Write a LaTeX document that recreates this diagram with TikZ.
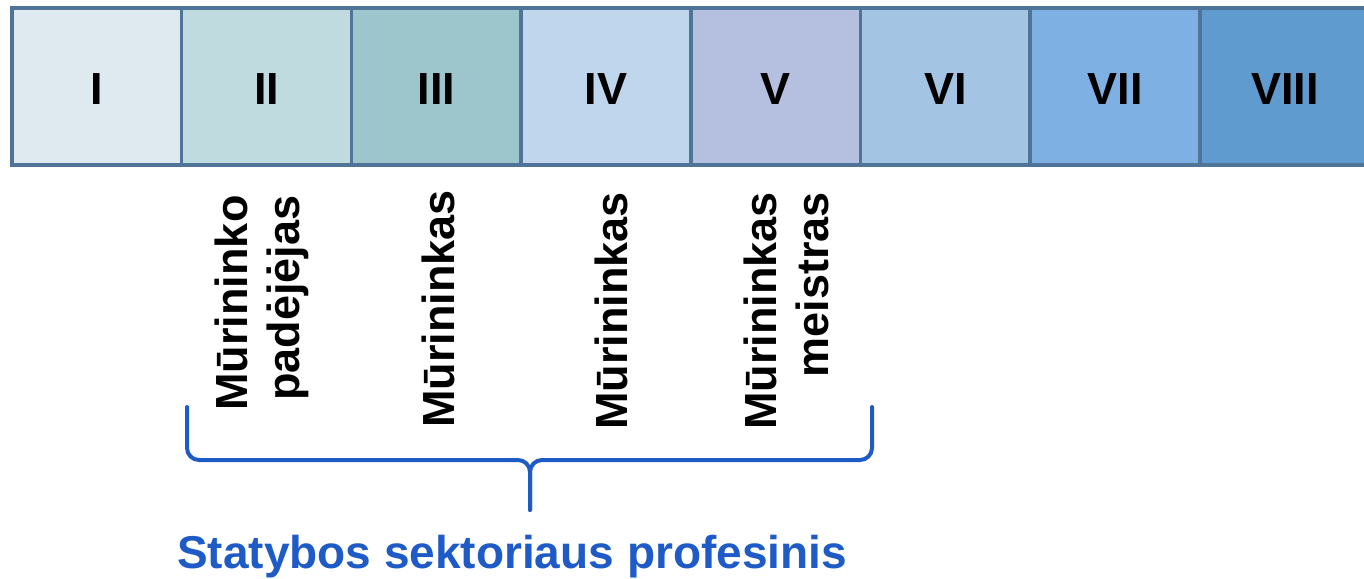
\documentclass[tikz,border=0pt]{standalone}
\usepackage{fontspec}
\setmainfont{Liberation Sans}
\usepackage{tikz}
\usetikzlibrary{positioning}

\definecolor{frame}{HTML}{4F7497}
\definecolor{lvA}{HTML}{DEE9F0}
\definecolor{lvB}{HTML}{BFDBDF}
\definecolor{lvC}{HTML}{9DC6CC}
\definecolor{lvD}{HTML}{BFD6EC}
\definecolor{lvE}{HTML}{B5BFDF}
\definecolor{lvF}{HTML}{A3C4E2}
\definecolor{lvG}{HTML}{7FB0E4}
\definecolor{lvH}{HTML}{609BD0}
\definecolor{sektor}{HTML}{1F5BC7}

\begin{document}
\begin{tikzpicture}[x=1pt,y=-1pt,node distance=169.7pt,
    lvl/.style={draw=frame,line width=3.5pt,minimum width=169.7pt,minimum height=157pt,inner sep=0pt,
      text height=36pt,font=\bfseries\fontsize{45}{52}\selectfont},
    job/.style={rotate=90,align=right,inner sep=0pt,font=\bfseries\fontsize{45}{52}\selectfont},
    brace/.style={draw=sektor,line width=4pt,rounded corners=12pt,line cap=round}]
        \useasboundingbox (0,0) rectangle (1364,578);
        \clip (0,0) rectangle (1364,578);

        % lygiai
        \node[lvl, fill=lvA] (l1) at (96.85,86.5) {I};
        \node[lvl, fill=lvB] (l2) [right of = l1] {II};
        \node[lvl, fill=lvC] (l3) [right of = l2] {III};
        \node[lvl, fill=lvD] (l4) [right of = l3] {IV};
        \node[lvl, fill=lvE] (l5) [right of = l4] {V};
        \node[lvl, fill=lvF] (l6) [right of = l5] {VI};
        \node[lvl, fill=lvG] (l7) [right of = l6] {VII};
        \node[lvl, fill=lvH] (l8) [right of = l7] {VIII};

        % kvalifikacijos
        \node[job] (j2) at (262,303) {Mūrininko\\padėjėjas};
        \node[job] (j3) at (438,309) {Mūrininkas};
        \node[job] (j4) at (611,311) {Mūrininkas};
        \node[job] (j5) at (786,311) {Mūrininkas\\meistras};

        % skliaustas
        \coordinate (bl) at (187,407);
        \coordinate (br) at (872,407);
        \coordinate (bm) at (530,460);
        \coordinate (tip) at (530,510);
        \draw[brace] (bl) |- (bm) -- (tip);
        \draw[brace] (br) |- (bm) -- (tip);

        \node[anchor=base, inner sep=0pt, text=sektor, font=\bfseries\fontsize{46}{52}\selectfont]
          (sektorius) at (512,568) {Statybos sektoriaus profesinis};
      \end{tikzpicture}
\end{document}
